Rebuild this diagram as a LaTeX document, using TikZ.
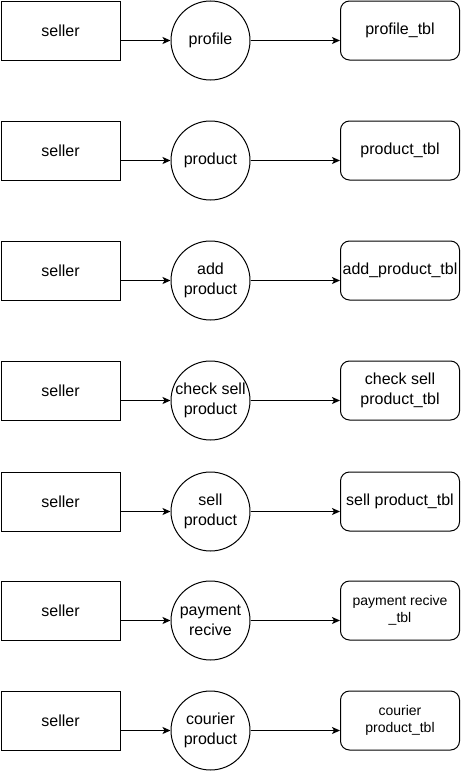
\documentclass[tikz,border=0pt]{standalone}
\usepackage{fontspec}
\setmainfont{Liberation Sans}
\usetikzlibrary{arrows.meta}

\begin{document}
\begin{tikzpicture}[>={Stealth[length=8pt,width=7pt,inset=2pt]},x=1pt,y=-1pt,
  actor/.style={draw,line width=1pt,minimum width=119pt,minimum height=59pt,inner sep=0pt,font=\fontsize{16}{20}\selectfont},
  proc/.style={draw,circle,line width=1pt,minimum size=79pt,inner sep=0pt,align=center,font=\fontsize{16}{20}\selectfont},
  tbl/.style={draw,rounded corners=9pt,line width=1pt,minimum width=119pt,minimum height=59pt,inner sep=1pt,align=center,font=\fontsize{16}{20}\selectfont},
  small/.style={font=\fontsize{14}{17}\selectfont},
  arrow/.style={->,line width=1pt}]
  \useasboundingbox (0,0) rectangle (461,771);
  % row 1
  \node[actor] (s1) at (60.5,30.5) {seller};
  \node[proc] (c1) at (210.5,40.5) {profile};
  \node[tbl] (t1) at (400,30.5) {profile\_tbl};
  % row 2
  \node[actor] (s2) at (60.5,150.5) {seller};
  \node[proc] (c2) at (210.5,160.5) {product};
  \node[tbl] (t2) at (400,150.5) {product\_tbl};
  % row 3
  \node[actor] (s3) at (60.5,270.5) {seller};
  \node[proc] (c3) at (210.5,280.5) {add\\product};
  \node[tbl] (t3) at (400,270.5) {add\_product\_tbl};
  % row 4
  \node[actor] (s4) at (60.5,390.5) {seller};
  \node[proc] (c4) at (210.5,400.5) {check sell\\product};
  \node[tbl] (t4) at (400,390.5) {check sell\\product\_tbl};
  % row 5
  \node[actor] (s5) at (60.5,501.5) {seller};
  \node[proc] (c5) at (210.5,511.5) {sell\\product};
  \node[tbl] (t5) at (400,501.5) {sell product\_tbl};
  % row 6
  \node[actor] (s6) at (60.5,610.5) {seller};
  \node[proc] (c6) at (210.5,620.5) {payment\\recive};
  \node[tbl,small] (t6) at (400,610.5) {payment recive\\\_tbl};
  % row 7
  \node[actor] (s7) at (60.5,720.5) {seller};
  \node[proc] (c7) at (210.5,730.5) {courier\\product};
  \node[tbl,small] (t7) at (400,720.5) {courier\\product\_tbl};

  \draw[arrow] (s1.east |- c1) -- (c1);
  \draw[arrow] (c1) -- (t1.west |- c1);
  \draw[arrow] (s2.east |- c2) -- (c2);
  \draw[arrow] (c2) -- (t2.west |- c2);
  \draw[arrow] (s3.east |- c3) -- (c3);
  \draw[arrow] (c3) -- (t3.west |- c3);
  \draw[arrow] (s4.east |- c4) -- (c4);
  \draw[arrow] (c4) -- (t4.west |- c4);
  \draw[arrow] (s5.east |- c5) -- (c5);
  \draw[arrow] (c5) -- (t5.west |- c5);
  \draw[arrow] (s6.east |- c6) -- (c6);
  \draw[arrow] (c6) -- (t6.west |- c6);
  \draw[arrow] (s7.east |- c7) -- (c7);
  \draw[arrow] (c7) -- (t7.west |- c7);
\end{tikzpicture}
\end{document}
